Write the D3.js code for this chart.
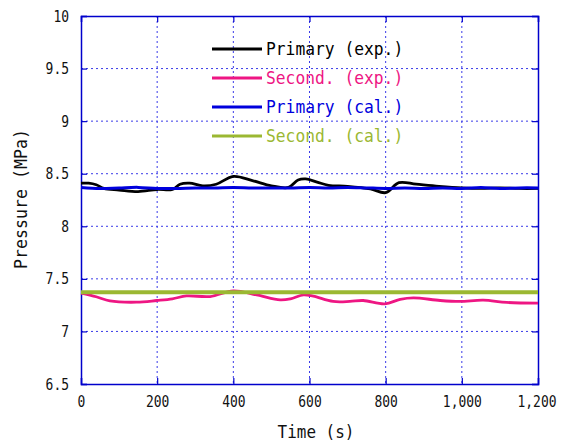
<!DOCTYPE html>
<html><head><meta charset="utf-8">
<script src="https://cdn.jsdelivr.net/npm/d3@7"></script>
<style>
body{margin:0;background:#fff;}
text{font-family:"DejaVu Sans Mono","Liberation Mono",monospace;}
</style></head>
<body><svg id="c" width="565" height="441"></svg>
<script>
const xTicks=[0,200,400,600,800,1000,1200];
const yTicks=[6.5,7,7.5,8,8.5,9,9.5,10];
const seriesNames=["Primary (exp.)","Second. (exp.)","Primary (cal.)","Second. (cal.)"];
const seriesColors=["#000000","#ee1683","#0000dd","#9bb832"];
const primaryExpT=[0,20,40,60,100,150,200,240,260,285,320,355,400,450,500,545,570,590,620,650,700,760,800,835,880,940,1000,1050,1100,1150,1200];
const primaryExpV=[8.41,8.41,8.395,8.36,8.345,8.33,8.35,8.35,8.40,8.41,8.385,8.40,8.475,8.435,8.385,8.37,8.44,8.45,8.42,8.39,8.38,8.355,8.32,8.415,8.40,8.38,8.365,8.36,8.365,8.36,8.36];
const secondExpT=[0,40,76,146,199,240,277,339,400,461,523,550,584,610,662,706,741,798,838,873,943,995,1056,1118,1200];
const secondExpV=[7.365,7.33,7.29,7.278,7.294,7.31,7.338,7.332,7.386,7.348,7.30,7.31,7.348,7.335,7.285,7.285,7.294,7.262,7.306,7.32,7.294,7.285,7.297,7.276,7.27];
const primaryCalT=[0,50,100,150,200,250,300,350,400,450,500,550,600,650,700,750,800,850,900,950,1000,1050,1100,1150,1200];
const primaryCalV=[8.37,8.36,8.365,8.37,8.36,8.36,8.365,8.365,8.37,8.365,8.365,8.365,8.37,8.365,8.37,8.365,8.36,8.365,8.36,8.365,8.36,8.37,8.36,8.365,8.365];
const secondCalT=[0,1200];
const secondCalV=[7.373,7.373];

const svg=d3.select("#c");
const L=81,R=538,T=16,B=384;
const x=d3.scaleLinear().domain([0,1200]).range([L,R]);
const y=d3.scaleLinear().domain([6.5,10]).range([B,T]);
const grid="#3a3ae8";
function squeeze(sel,cw){
 sel.each(function(){const t=this.textContent;if(t.length)d3.select(this).attr("textLength",t.length*cw).attr("lengthAdjust","spacingAndGlyphs");});
}
// gridlines
svg.append("g").selectAll("line").data(xTicks.slice(1,-1)).join("line")
 .attr("x1",d=>x(d)).attr("x2",d=>x(d)).attr("y1",T).attr("y2",B)
 .attr("stroke",grid).attr("stroke-width",1).attr("stroke-dasharray","2,3");
svg.append("g").selectAll("line").data(yTicks.slice(1,-1)).join("line")
 .attr("y1",d=>y(d)).attr("y2",d=>y(d)).attr("x1",L).attr("x2",R)
 .attr("stroke",grid).attr("stroke-width",1).attr("stroke-dasharray","2,3");
// axes with inner ticks
const fmt=d3.format(",");
const ax=svg.append("g").attr("transform",`translate(0,${B})`).call(d3.axisBottom(x).tickValues(xTicks).tickSize(-6).tickPadding(12).tickFormat(fmt));
const ay=svg.append("g").attr("transform",`translate(${L},0)`).call(d3.axisLeft(y).tickValues(yTicks).tickSize(-6).tickPadding(12).tickFormat(d=>String(d)));
const ax2=svg.append("g").attr("transform",`translate(0,${T})`).call(d3.axisTop(x).tickValues(xTicks).tickSize(-6).tickFormat(""));
const ay2=svg.append("g").attr("transform",`translate(${R},0)`).call(d3.axisRight(y).tickValues(yTicks).tickSize(-6).tickFormat(""));
[ax,ay,ax2,ay2].forEach(g=>{
 g.select(".domain").attr("stroke","#0000cc").attr("stroke-width",1.5);
 g.selectAll(".tick line").attr("stroke","#0000cc").attr("stroke-width",1.2);
 g.selectAll("text").attr("fill","#111").attr("font-size",16).attr("font-family","DejaVu Sans Mono");
});
squeeze(ax.selectAll("text"),7.8);
squeeze(ay.selectAll("text"),7.8);
ax.selectAll(".tick text").filter(d=>d===1200).attr("text-anchor","end").attr("x",18);
// series
const line=d3.line().x(d=>x(d[0])).y(d=>y(d[1])).curve(d3.curveCatmullRom);
const data=[d3.zip(primaryExpT,primaryExpV),d3.zip(secondExpT,secondExpV),d3.zip(primaryCalT,primaryCalV),d3.zip(secondCalT,secondCalV)];
const widths=[2.8,2.8,3,4];
data.forEach((s,i)=>{
 svg.append("path").datum(s).attr("d",line).attr("fill","none")
  .attr("stroke",seriesColors[i]).attr("stroke-width",widths[i]).attr("stroke-linejoin","round");
});
// legend
const lg=svg.append("g");
seriesNames.forEach((n,i)=>{
 const yy=49+i*29;
 lg.append("line").attr("x1",212).attr("x2",262).attr("y1",yy).attr("y2",yy)
  .attr("stroke",seriesColors[i]).attr("stroke-width",3);
 lg.append("text").attr("x",266).attr("y",yy).attr("dy","0.36em").attr("font-size",17)
  .attr("fill",seriesColors[i]).text(n);
});
squeeze(lg.selectAll("text"),9.8);
// axis titles
const xt=svg.append("text").attr("x",316).attr("y",432).attr("dy","0.36em").attr("text-anchor","middle")
 .attr("font-size",17).attr("fill","#111").text("Time (s)");
const yt=svg.append("text").attr("transform","translate(21,199) rotate(-90)").attr("dy","0.36em")
 .attr("text-anchor","middle").attr("font-size",17).attr("fill","#111").text("Pressure (MPa)");
squeeze(xt,9.6);
squeeze(yt,10);
</script></body></html>
